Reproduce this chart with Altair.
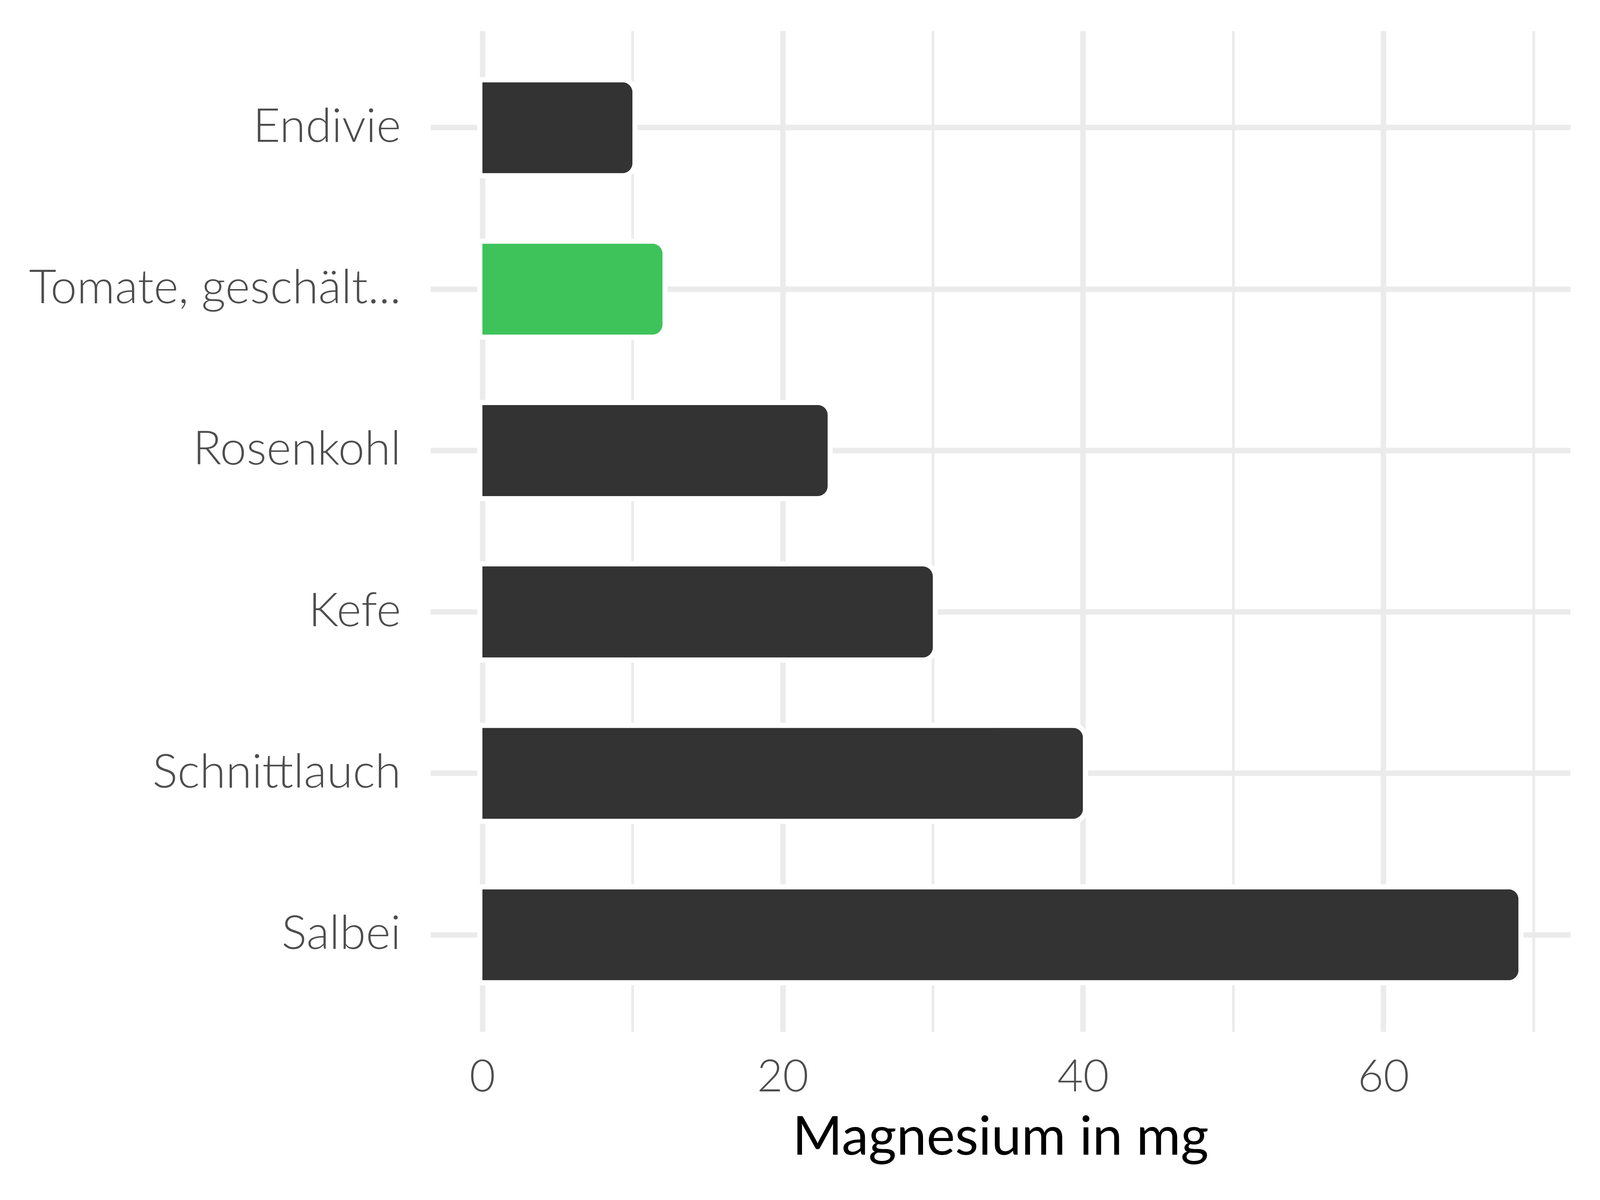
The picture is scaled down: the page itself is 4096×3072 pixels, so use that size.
import altair as alt
import pandas as pd

foods = ["Endivie", "Tomate, geschält...", "Rosenkohl", "Kefe", "Schnittlauch", "Salbei"]
magnesium = [10, 12, 23, 30, 40, 69]
highlight_food = "Tomate, geschält..."
x_ticks = [0, 10, 20, 30, 40, 50, 60, 70]

df = pd.DataFrame({"Lebensmittel": foods, "Magnesium": magnesium})

FONT = "Lato"
DARK = "#333333"
GREEN = "#3EC35A"
GRID = "#EBEBEB"

x_scale = alt.Scale(domain=[-3.45, 72.45], nice=False, zero=False)
y_scale = alt.Scale(paddingInner=0.436, paddingOuter=0.318)

x_axis = alt.Axis(
    values=x_ticks,
    labelExpr="datum.value % 20 === 0 ? datum.label : ''",
    title="Magnesium in mg",
    grid=True,
    gridColor=GRID,
    gridWidth={"condition": {"test": "datum.value % 20 === 0", "value": 14}, "value": 7},
    domain=False,
    ticks=False,
    labelFont=FONT,
    labelFontSize=114,
    labelFontWeight=300,
    labelColor="#4D4D4D",
    labelPadding=62,
    titleFont=FONT,
    titleFontSize=138,
    titleFontWeight=400,
    titleColor="#000000",
    titlePadding=30,
)
y_axis = alt.Axis(
    title=None,
    grid=True,
    gridColor=GRID,
    gridWidth=14,
    bandPosition=0.5,
    domain=False,
    ticks=False,
    labelFont=FONT,
    labelFontSize=121,
    labelFontWeight=300,
    labelColor="#4D4D4D",
    labelPadding=76,
    labelLimit=2000,
)

base = alt.Chart(df)

halo = base.mark_bar(
    color="white", stroke="white", strokeWidth=26, cornerRadiusEnd=26
).encode(
    x=alt.X("Magnesium:Q", scale=x_scale, axis=x_axis),
    y=alt.Y("Lebensmittel:N", sort=foods, scale=y_scale, axis=y_axis),
)

bars = base.mark_bar(cornerRadiusEnd=26).encode(
    x=alt.X("Magnesium:Q", scale=x_scale, axis=x_axis),
    y=alt.Y("Lebensmittel:N", sort=foods, scale=y_scale, axis=y_axis),
    color=alt.condition(
        alt.datum.Lebensmittel == highlight_food, alt.value(GREEN), alt.value(DARK)
    ),
)

chart = (
    alt.layer(halo, bars)
    .properties(
        width=2918,
        height=2562,
        autosize=alt.AutoSizeParams(type="none"),
        padding={"left": 1094, "top": 71, "right": 68, "bottom": 423},
        background="white",
    )
    .configure_view(stroke=None)
)

chart.save("out.html", embed_options={"renderer": "svg", "actions": False})
